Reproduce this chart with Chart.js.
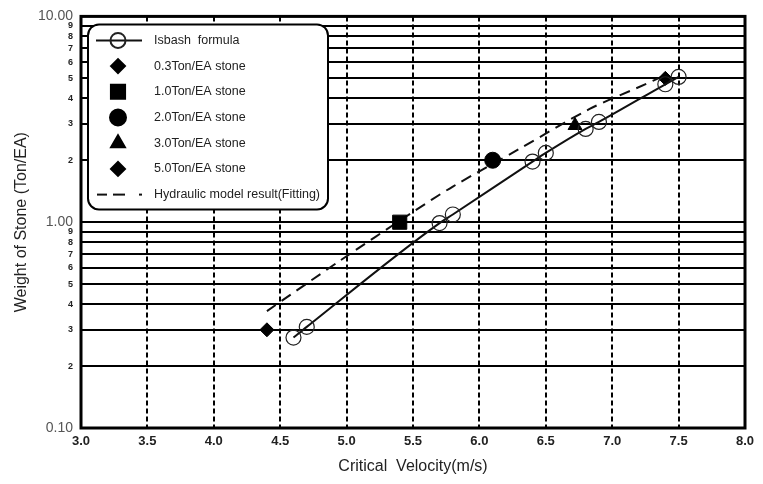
<!DOCTYPE html>
<html>
<head>
<meta charset="utf-8">
<script src="https://cdn.jsdelivr.net/npm/chart.js@4.4.0/dist/chart.umd.min.js"></script>
<style>
  html, body { margin: 0; padding: 0; background: #fff; }
  #wrap { width: 763px; height: 484px; }
</style>
</head>
<body>
<div id="wrap"><canvas id="chart"></canvas></div>
<script>
// Isbash formula (open circles)
var isbashV = [4.6, 4.7, 5.7, 5.8, 6.4, 6.5, 6.8, 6.9, 7.4, 7.5];
var isbashW = [0.275, 0.31, 0.99, 1.09, 1.97, 2.17, 2.84, 3.07, 4.68, 5.08];

// hydraulic model stones
var stoneNames = ['0.3Ton/EA stone', '1.0Ton/EA stone', '2.0Ton/EA stone', '3.0Ton/EA stone', '5.0Ton/EA stone'];
var stoneV = [4.4, 5.4, 6.1, 6.72, 7.4];
var stoneW = [0.3, 1.0, 2.0, 2.95, 5.0];
var stoneMarks = ['rectRot', 'rect', 'circle', 'triangle', 'rectRot'];
var stoneSizes = [7, 10, 8, 8, 7];

// fitted curve of the model result (dashed)
var fitV = [4.4, 4.95, 5.48, 5.8, 6.3, 6.83, 7.19, 7.42];
var fitW = [0.37, 0.65, 1.10, 1.49, 2.27, 3.55, 4.5, 5.25];

var xTicks = [3.0, 3.5, 4.0, 4.5, 5.0, 5.5, 6.0, 6.5, 7.0, 7.5, 8.0];
var yTicks = [0.1, 0.2, 0.3, 0.4, 0.5, 0.6, 0.7, 0.8, 0.9,
              1, 2, 3, 4, 5, 6, 7, 8, 9, 10];
var yMajor = [0.1, 1, 10];

function pts(xs, ys) {
  return xs.map(function(x, i) { return { x: x, y: ys[i] }; });
}
function isMajor(v) {
  return yMajor.some(function(m) { return Math.abs(m - v) < 1e-9; });
}

var datasets = [{
  label: 'Isbash  formula',
  data: pts(isbashV, isbashW),
  showLine: true,
  borderColor: '#111',
  borderWidth: 2,
  cubicInterpolationMode: 'monotone',
  pointStyle: 'circle',
  pointRadius: 7.5,
  pointBorderWidth: 1.2,
  pointBorderColor: '#222',
  pointBackgroundColor: 'rgba(0,0,0,0)'
}];
stoneNames.forEach(function(name, i) {
  datasets.push({
    label: name,
    data: [{ x: stoneV[i], y: stoneW[i] }],
    showLine: false,
    pointStyle: stoneMarks[i],
    pointRadius: stoneSizes[i],
    pointBorderWidth: 1,
    pointBorderColor: '#000',
    pointBackgroundColor: '#000'
  });
});
datasets.push({
  label: 'Hydraulic model result(Fitting)',
  data: pts(fitV, fitW),
  showLine: true,
  borderColor: '#111',
  borderWidth: 2,
  borderDash: [11, 7],
  tension: 0.3,
  pointRadius: 0,
  dashedKey: true
});

// thick frame round the plot area
var frame = {
  id: 'frame',
  beforeDatasetsDraw: function(chart) {
    var a = chart.chartArea, ctx = chart.ctx;
    ctx.save();
    ctx.lineWidth = 3;
    ctx.strokeStyle = '#000';
    ctx.strokeRect(a.left, a.top, a.right - a.left, a.bottom - a.top);
    ctx.restore();
  }
};

// legend box drawn inside the plot, top left
var legendBox = {
  id: 'legendBox',
  afterDatasetsDraw: function(chart) {
    var ctx = chart.ctx, a = chart.chartArea;
    var x0 = a.left + 7, y0 = a.top + 8, w = 240, h = 185;
    ctx.save();
    ctx.beginPath();
    ctx.roundRect(x0, y0, w, h, 11);
    ctx.fillStyle = '#fff';
    ctx.fill();
    ctx.lineWidth = 2;
    ctx.strokeStyle = '#000';
    ctx.stroke();

    chart.data.datasets.forEach(function(ds, i) {
      var y = y0 + 16 + i * 25.7;
      var cx = x0 + 30;
      ctx.strokeStyle = '#111';
      ctx.fillStyle = '#000';
      if (ds.dashedKey) {
        ctx.lineWidth = 2;
        [[x0 + 9, x0 + 19], [x0 + 25, x0 + 37], [x0 + 51, x0 + 54]].forEach(function(s) {
          ctx.beginPath();
          ctx.moveTo(s[0], y);
          ctx.lineTo(s[1], y);
          ctx.stroke();
        });
      } else {
        if (ds.showLine) {
          ctx.lineWidth = 2;
          ctx.beginPath();
          ctx.moveTo(x0 + 8, y);
          ctx.lineTo(x0 + 54, y);
          ctx.stroke();
        }
        ctx.fillStyle = ds.pointBackgroundColor;
        ctx.strokeStyle = ds.pointBorderColor;
        Chart.helpers.drawPoint(ctx, {
          pointStyle: ds.pointStyle,
          radius: ds.pointRadius,
          borderWidth: ds.pointBorderWidth,
          rotation: 0
        }, cx, y);
      }
      ctx.fillStyle = '#222';
      ctx.font = '12.5px "Liberation Sans", Arial, sans-serif';
      ctx.textBaseline = 'middle';
      ctx.textAlign = 'left';
      ctx.fillText(ds.label, x0 + 66, y);
    });
    ctx.restore();
  }
};

var config = {
  type: 'scatter',
  data: { datasets: datasets },
  plugins: [frame, legendBox],
  options: {
    responsive: false,
    animation: false,
    layout: { padding: { top: 14, right: 18, left: 0, bottom: 0 } },
    plugins: {
      legend: { display: false },
      tooltip: { enabled: false }
    },
    scales: {
      x: {
        type: 'linear',
        min: 3,
        max: 8,
        afterBuildTicks: function(scale) {
          scale.ticks = xTicks.map(function(v) { return { value: v }; });
        },
        afterFit: function(scale) { scale.height = 56; },
        grid: { color: '#000', lineWidth: 2, drawTicks: false },
        border: { display: false, dash: [5, 3] },
        ticks: {
          padding: 6,
          color: '#222',
          font: { family: '"Liberation Sans", Arial', size: 13, weight: 'bold' },
          callback: function(v) { return Number(v).toFixed(1); }
        },
        title: {
          display: true,
          text: 'Critical  Velocity(m/s)',
          color: '#222',
          font: { family: '"Liberation Sans", Arial', size: 16 },
          padding: { top: 0, bottom: 8 }
        }
      },
      y: {
        type: 'logarithmic',
        min: 0.1,
        max: 10,
        afterBuildTicks: function(scale) {
          scale.ticks = yTicks.map(function(v) { return { value: v }; });
        },
        afterFit: function(scale) { scale.width = 81; },
        grid: { color: '#000', lineWidth: 2, drawTicks: false },
        border: { display: false },
        ticks: {
          autoSkip: false,
          padding: 8,
          color: function(c) { return isMajor(c.tick.value) ? '#555' : '#222'; },
          font: function(c) {
            return isMajor(c.tick.value)
              ? { family: '"Liberation Sans", Arial', size: 14 }
              : { family: '"Liberation Sans", Arial', size: 9, weight: 'bold' };
          },
          callback: function(v) {
            if (isMajor(v)) return Number(v).toFixed(2);
            return String(Math.round(v / Math.pow(10, Math.floor(Math.log10(v) + 1e-9))));
          }
        },
        title: {
          display: true,
          text: 'Weight of Stone (Ton/EA)',
          color: '#222',
          font: { family: '"Liberation Sans", Arial', size: 16 },
          padding: { top: 12, bottom: 0 }
        }
      }
    }
  }
};

window.onload = function() {
  var cv = document.getElementById('chart');
  cv.width = 763;
  cv.height = 484;
  var ctx = cv.getContext('2d');
  window.myChart = new Chart(ctx, config);
};
</script>
</body>
</html>
